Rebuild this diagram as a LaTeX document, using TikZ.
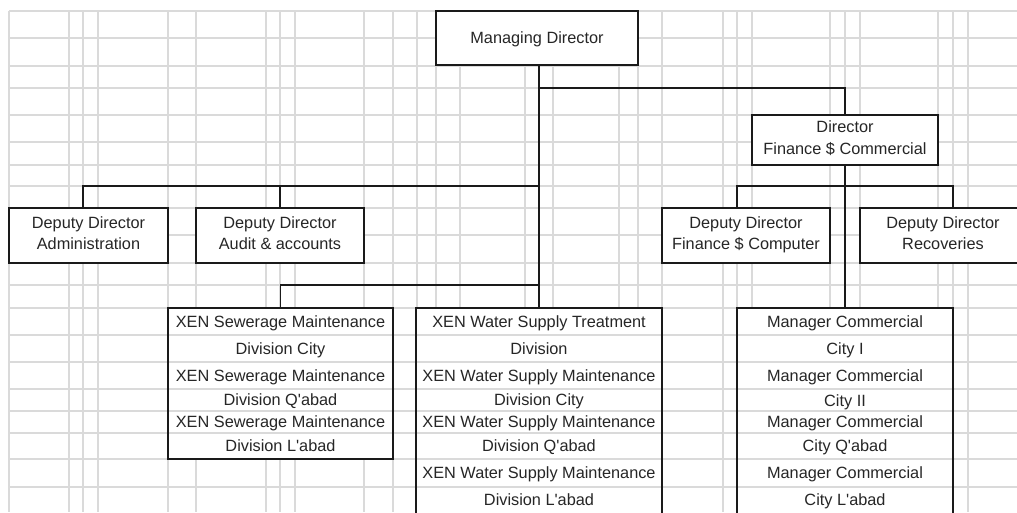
\documentclass[tikz,border=0pt]{standalone}
\usepackage{fontspec}
\setmainfont{Liberation Sans}
\newcommand\vsx{\rule[-4.9pt]{0pt}{21.5pt}}
\newcommand\ap{\textquotesingle}
\definecolor{gridc}{HTML}{DADADA}
\definecolor{ink}{HTML}{1A1A1A}
\definecolor{txtc}{HTML}{262626}
\tikzset{
  gridline/.style={draw=gridc, line width=1.3pt},
  rowline/.style={draw=gridc, line width=1.3pt},
  box/.style={draw=ink, fill=white, line width=2.4pt, rectangle, inner sep=0pt,
    outer sep=0pt, anchor=north west, text=txtc, align=center,
    font=\fontsize{16.3}{21.5}\selectfont,
    execute at begin node=\vsx, execute at end node=\vsx},
  cell/.style={inner sep=0pt, text=txtc, font=\fontsize{16.3}{21.5}\selectfont,
    execute at begin node=\vsx},
  conn/.style={draw=ink, line width=1.8pt}
}
\begin{document}
\begin{tikzpicture}[x=1pt,y=-1pt]
\useasboundingbox (0,0) rectangle (1017,512);
\clip (0,0) rectangle (1017,512);
\fill[white] (0,0) rectangle (1017,512);
% grid
\foreach \y in {11,38,66,88,115,142,165,186,208,235,263,285,308,335,362,389,411,433,459,487}
  \draw[gridline] (9,\y) -- (1017,\y);
\foreach \x in {9,69,83,98,168,196,266,280,295,364,393,417,436,460,525,539,553,619,638,662,723,737,752,830,845,860,938,953,968}
  \draw[gridline] (\x,11) -- (\x,512);
% boxes
\node[box, minimum width=202pt, minimum height=54pt] (md) at (436,11) {Managing Director};
\node[box, minimum width=186pt, minimum height=50pt] (dfc) at (752,115) {Director\\Finance \$ Commercial};
\node[box, minimum width=159pt, minimum height=55pt] (adm) at (9,208) {Deputy Director\\Administration};
\node[box, minimum width=168pt, minimum height=55pt] (aud) at (196,208) {Deputy Director\\Audit \& accounts};
\node[box, minimum width=168pt, minimum height=55pt] (ddfc) at (662,208) {Deputy Director\\Finance \$ Computer};
\node[box, minimum width=166pt, minimum height=55pt] (ddr) at (860,208) {Deputy Director\\Recoveries};
\node[box, minimum width=225pt, minimum height=151pt] (sew) at (168,308) {};
\node[box, minimum width=246pt, minimum height=240pt] (wat) at (416,308) {};
\node[box, minimum width=216pt, minimum height=240pt] (mgr) at (737,308) {};
% row lines inside the tall boxes
\foreach \y in {335,362,389,411,433}
  \draw[rowline] (169.2,\y) -- (391.8,\y);
\foreach \y in {335,362,389,411,433,459,487} {
  \draw[rowline] (417.2,\y) -- (660.8,\y);
  \draw[rowline] (738.2,\y) -- (951.8,\y);
}
% sewerage rows
\node[cell] (s1) at (280.5,321.5) {XEN Sewerage Maintenance};
\node[cell] (s2) at (280.5,348.5) {Division City};
\node[cell] (s3) at (280.5,375.5) {XEN Sewerage Maintenance};
\node[cell] (s4) at (280.5,400) {Division Q\ap abad};
\node[cell] (s5) at (280.5,422) {XEN Sewerage Maintenance};
\node[cell] (s6) at (280.5,446) {Division L\ap abad};
% water rows
\node[cell] (w1) at (539,321.5) {XEN Water Supply Treatment};
\node[cell] (w2) at (539,348.5) {Division};
\node[cell] (w3) at (539,375.5) {XEN Water Supply Maintenance};
\node[cell] (w4) at (539,400) {Division City};
\node[cell] (w5) at (539,422) {XEN Water Supply Maintenance};
\node[cell] (w6) at (539,446) {Division Q\ap abad};
\node[cell] (w7) at (539,473) {XEN Water Supply Maintenance};
\node[cell] (w8) at (539,499.5) {Division L\ap abad};
% manager rows
\node[cell] (m1) at (845,321.5) {Manager Commercial};
\node[cell] (m2) at (845,348.5) {City I};
\node[cell] (m3) at (845,375.5) {Manager Commercial};
\node[cell] (m4) at (845,401) {City II};
\node[cell] (m5) at (845,422) {Manager Commercial};
\node[cell] (m6) at (845,446) {City Q\ap abad};
\node[cell] (m7) at (845,473) {Manager Commercial};
\node[cell] (m8) at (845,499.5) {City L\ap abad};
% connectors
\coordinate (j1) at (539,88);
\coordinate (j2) at (539,186);
\coordinate (j3) at (539,285);
\coordinate (j4) at (845,186);
\draw[conn] (md.south -| wat.north) -- (wat.north);
\draw[conn] (j1) -| (dfc.north);
\draw[conn] (j2) -| ([xshift=-5.5pt]adm.north);
\draw[conn] (j2) -| (aud.north);
\draw[conn] (j3) -| (sew.north);
\draw[conn] (dfc.south) -- (mgr.north);
\draw[conn] ([xshift=-9pt]ddfc.north) |- (j4) -| ([xshift=10pt]ddr.north);
\end{tikzpicture}
\end{document}
